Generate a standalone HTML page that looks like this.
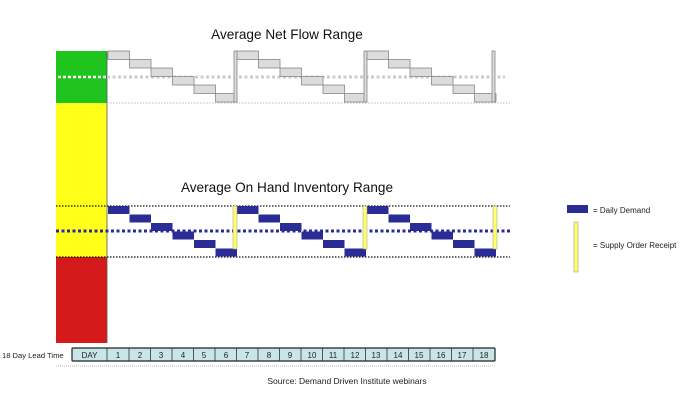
<!DOCTYPE html>
<html><head><meta charset="utf-8"><style>
html,body{margin:0;padding:0;background:#fff;width:696px;height:403px;overflow:hidden}
svg{display:block;font-family:"Liberation Sans",Arial,sans-serif}
</style></head><body>
<svg width="696" height="403" viewBox="0 0 696 403" xmlns="http://www.w3.org/2000/svg">
<rect width="696" height="403" fill="#fff"/>
<rect x="56" y="51" width="51" height="52" fill="#1fc41f"/>
<rect x="56" y="103" width="51" height="154" fill="#ffff1a"/>
<rect x="56" y="257" width="51" height="86" fill="#d41a1a"/>
<line x1="107" y1="51" x2="107" y2="343" stroke="#555" stroke-width="0.8"/>
<line x1="58" y1="77" x2="106" y2="77" stroke="#fff" stroke-width="2.5" stroke-dasharray="3,2"/>
<text x="287" y="39" font-size="13.6" text-anchor="middle" fill="#111">Average Net Flow Range</text>
<text x="287" y="192" font-size="13.6" text-anchor="middle" fill="#111">Average On Hand Inventory Range</text>
<line x1="107" y1="77" x2="505" y2="77" stroke="#ccc" stroke-width="3" stroke-dasharray="3,2.5"/>
<line x1="107" y1="103" x2="510" y2="103" stroke="#bbb" stroke-width="1" stroke-dasharray="1.5,1.5"/>
<g fill="#dcdcdc" stroke="#888" stroke-width="0.8">
<rect x="108" y="51" width="21.5" height="8.5"/><rect x="129.5" y="59.5" width="21.5" height="8.5"/><rect x="151" y="68" width="21.5" height="8.5"/><rect x="172.5" y="76.5" width="21.5" height="8.5"/><rect x="194" y="85" width="21.5" height="8.5"/><rect x="215.5" y="93.5" width="21.5" height="8.5"/>
<rect x="234" y="51" width="3" height="51"/>
<rect x="237" y="51" width="21.5" height="8.5"/><rect x="258.5" y="59.5" width="21.5" height="8.5"/><rect x="280" y="68" width="21.5" height="8.5"/><rect x="301.5" y="76.5" width="21.5" height="8.5"/><rect x="323" y="85" width="21.5" height="8.5"/><rect x="344.5" y="93.5" width="21.5" height="8.5"/>
<rect x="364" y="51" width="3" height="51"/>
<rect x="367" y="51" width="21.5" height="8.5"/><rect x="388.5" y="59.5" width="21.5" height="8.5"/><rect x="410" y="68" width="21.5" height="8.5"/><rect x="431.5" y="76.5" width="21.5" height="8.5"/><rect x="453" y="85" width="21.5" height="8.5"/><rect x="474.5" y="93.5" width="21.5" height="8.5"/>
<rect x="492" y="51" width="3" height="51"/>
</g>
<line x1="56" y1="206" x2="510" y2="206" stroke="#111" stroke-width="1.2" stroke-dasharray="1.5,1.5"/>
<line x1="56" y1="257" x2="510" y2="257" stroke="#111" stroke-width="1.2" stroke-dasharray="1.5,1.5"/>
<line x1="56" y1="231" x2="510" y2="231" stroke="#2a2aa0" stroke-width="3" stroke-dasharray="3,2.5"/>
<g fill="#2b2b95">
<rect x="108" y="206" width="21.5" height="8"/><rect x="129.5" y="214.5" width="21.5" height="8"/><rect x="151" y="223" width="21.5" height="8"/><rect x="172.5" y="231.5" width="21.5" height="8"/><rect x="194" y="240" width="21.5" height="8"/><rect x="215.5" y="248.5" width="21.5" height="8"/>
<rect x="237" y="206" width="21.5" height="8"/><rect x="258.5" y="214.5" width="21.5" height="8"/><rect x="280" y="223" width="21.5" height="8"/><rect x="301.5" y="231.5" width="21.5" height="8"/><rect x="323" y="240" width="21.5" height="8"/><rect x="344.5" y="248.5" width="21.5" height="8"/>
<rect x="367" y="206" width="21.5" height="8"/><rect x="388.5" y="214.5" width="21.5" height="8"/><rect x="410" y="223" width="21.5" height="8"/><rect x="431.5" y="231.5" width="21.5" height="8"/><rect x="453" y="240" width="21.5" height="8"/><rect x="474.5" y="248.5" width="21.5" height="8"/>
</g>
<g fill="#ffff66" stroke="#999" stroke-width="0.5">
<rect x="233" y="206" width="4" height="43"/><rect x="363" y="206" width="4" height="43"/><rect x="493" y="206" width="4" height="43"/>
</g>
<rect x="567" y="205" width="21" height="8" fill="#2b2b95"/>
<text x="593" y="213" font-size="8" fill="#222">= Daily Demand</text>
<rect x="574" y="222" width="4" height="50" fill="#ffff66" stroke="#999" stroke-width="0.6"/>
<text x="593" y="248" font-size="8" fill="#222">= Supply Order Receipt</text>
<text x="2" y="358" font-size="7.6" fill="#222">18 Day Lead Time</text>
<rect x="72" y="348" width="423" height="13" fill="#c8e6e8" stroke="#222" stroke-width="1.2" rx="1"/>
<g stroke="#333" stroke-width="0.8">
<line x1="107" y1="348" x2="107" y2="361"/>
<line x1="129" y1="348" x2="129" y2="361"/><line x1="150.5" y1="348" x2="150.5" y2="361"/><line x1="172" y1="348" x2="172" y2="361"/><line x1="193.5" y1="348" x2="193.5" y2="361"/><line x1="215" y1="348" x2="215" y2="361"/><line x1="236.5" y1="348" x2="236.5" y2="361"/><line x1="258" y1="348" x2="258" y2="361"/><line x1="279.5" y1="348" x2="279.5" y2="361"/><line x1="301" y1="348" x2="301" y2="361"/><line x1="322.5" y1="348" x2="322.5" y2="361"/><line x1="344" y1="348" x2="344" y2="361"/><line x1="365.5" y1="348" x2="365.5" y2="361"/><line x1="387" y1="348" x2="387" y2="361"/><line x1="408.5" y1="348" x2="408.5" y2="361"/><line x1="430" y1="348" x2="430" y2="361"/><line x1="451.5" y1="348" x2="451.5" y2="361"/><line x1="473" y1="348" x2="473" y2="361"/>
</g>
<g font-size="8" fill="#222" text-anchor="middle">
<text x="89.5" y="358">DAY</text>
<text x="118" y="358">1</text><text x="140" y="358">2</text><text x="161" y="358">3</text><text x="183" y="358">4</text><text x="204" y="358">5</text><text x="226" y="358">6</text><text x="247" y="358">7</text><text x="269" y="358">8</text><text x="290" y="358">9</text><text x="312" y="358">10</text><text x="333" y="358">11</text><text x="355" y="358">12</text><text x="376" y="358">13</text><text x="398" y="358">14</text><text x="419" y="358">15</text><text x="441" y="358">16</text><text x="462" y="358">17</text><text x="484" y="358">18</text>
</g>
<line x1="56" y1="366" x2="495" y2="366" stroke="#bbb" stroke-width="1" stroke-dasharray="1,1"/>
<text x="347" y="384" font-size="8.5" text-anchor="middle" fill="#222">Source: Demand Driven Institute webinars</text>
</svg>
</body></html>
